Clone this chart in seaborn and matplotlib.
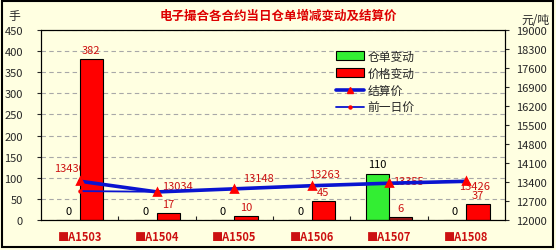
import numpy as np
import pandas as pd
import matplotlib
matplotlib.use("Agg")
import matplotlib.pyplot as plt
from matplotlib.patches import Patch, Rectangle
from matplotlib.lines import Line2D
import seaborn as sns

# ---- data ----
contracts = ["■A1503", "■A1504", "■A1505", "■A1506", "■A1507", "■A1508"]
warrant_change = [0, 0, 0, 0, 110, 0]          # 仓单变动
price_change = [382, 17, 10, 45, 6, 37]        # 价格变动
settle_price = [13430, 13034, 13148, 13263, 13355, 13426]   # 结算价
prev_price = [13065, 13040, 13140, 13255, 13345, 13420]     # 前一日价
left_ticks = [0, 50, 100, 150, 200, 250, 300, 350, 400, 450]
right_ticks = [12000, 12700, 13400, 14100, 14800, 15500, 16200, 16900, 17600, 18300, 19000]

title = "电子撮合各合约当日仓单增减变动及结算价"
series_names = ["仓单变动", "价格变动", "结算价", "前一日价"]

# ---- style ----
sns.set_style("ticks")
plt.rcParams["font.family"] = ["Noto Sans CJK SC", "DejaVu Sans"]
plt.rcParams["axes.unicode_minus"] = False

BG = "#FFFFE1"
GREEN = "#33EE33"
RED = "#FF0000"
DARKRED = "#A01818"
BLUE = "#0A14D0"
LABEL_RED = "#CC1111"

W, H, DPI = 556, 251, 100
fig = plt.figure(figsize=(W / DPI, H / DPI), dpi=DPI)
fig.patch.set_facecolor(BG)
fig.add_artist(Rectangle((2 / W, 3 / H), (W - 5) / W, (H - 5) / H,
                         transform=fig.transFigure, fill=False,
                         edgecolor="black", linewidth=1.5))

L, R, B, T = 41, 505, 221, 31
ax = fig.add_axes([L / W, 1 - B / H, (R - L) / W, (B - T) / H])
ax.set_facecolor(BG)

df_bar = pd.DataFrame({
    "合约": contracts * 2,
    "类型": [series_names[0]] * len(contracts) + [series_names[1]] * len(contracts),
    "数量": warrant_change + price_change,
})
sns.barplot(data=df_bar, x="合约", y="数量", hue="类型",
            hue_order=series_names[:2], palette=[GREEN, RED],
            width=0.6, edgecolor="black", linewidth=0.8,
            saturation=1, legend=False, ax=ax, zorder=2)
# darker fill for the A1507 price-change bar
ax.containers[1][4].set_facecolor(DARKRED)

ax.bar_label(ax.containers[0], padding=3, color="black", fontsize=8)
ax.bar_label(ax.containers[1], padding=3, color=LABEL_RED, fontsize=8)

ax.set_ylim(left_ticks[0], left_ticks[-1])
ax.set_yticks(left_ticks)
ax.set_xlim(-0.5, len(contracts) - 0.5)
ax.set_xlabel("")
ax.set_ylabel("")
ax.grid(axis="y", color="#A8A8A8", linestyle=(0, (4, 3)), linewidth=0.8)
ax.set_axisbelow(True)

ax2 = ax.twinx()
df_line = pd.DataFrame({"合约": contracts, "结算价": settle_price, "前一日价": prev_price})
sns.pointplot(data=df_line, x="合约", y="前一日价", ax=ax2, color=BLUE,
              markers="o", linestyles="-", errorbar=None,
              markersize=2.2, linewidth=1.3,
              markerfacecolor=RED, markeredgecolor=RED)
sns.pointplot(data=df_line, x="合约", y="结算价", ax=ax2, color=BLUE,
              markers="^", linestyles="-", errorbar=None,
              markersize=4, linewidth=2.6,
              markerfacecolor=RED, markeredgecolor=RED)
ax2.set_ylim(right_ticks[0], right_ticks[-1])
ax2.set_yticks(right_ticks)
ax2.set_ylabel("")
ax2.set_xlabel("")

# settlement labels (pixel offsets are styling; +y is up)
offsets = [(-10, 13), (20, 6), (24, 11), (13, 12), (19, 2), (8, -5)]
for i, (v, off) in enumerate(zip(settle_price, offsets)):
    ax.annotate(f"{v}", xy=(i, v), xycoords=ax2.transData,
                xytext=off, textcoords="offset pixels",
                ha="center", va="center", color=LABEL_RED, fontsize=8,
                zorder=1, annotation_clip=False)

# x ticks: labels at centers, small inward ticks at boundaries
ax.set_xlim(-0.5, len(contracts) - 0.5)
ax.set_xticks(range(len(contracts)))
ax.set_xticklabels(contracts, color=LABEL_RED, fontweight="bold", fontsize=8)
ax.tick_params(axis="x", which="major", length=0, pad=7)
ax.set_xticks(np.arange(0.5, len(contracts) - 0.5, 1), minor=True)
ax.tick_params(axis="x", which="minor", direction="in", length=3, width=0.8)
ax.tick_params(axis="y", direction="out", length=3, width=0.8, pad=10, labelsize=8)
ax2.tick_params(axis="y", direction="out", length=3, width=0.8, pad=5, labelsize=8)
for a in (ax, ax2):
    for s in a.spines.values():
        s.set_color("black")
        s.set_linewidth(0.8)

# texts
fig.text(278 / W, 1 - 16 / H, title, ha="center", va="center",
         color="#DD0000", fontweight="bold", fontsize=9)
fig.text(8 / W, 1 - 17 / H, "手", ha="left", va="center", fontsize=8.5)
fig.text(550 / W, 1 - 20 / H, "元/吨", ha="right", va="center", fontsize=8.5)

# legend
handles = [
    Patch(facecolor=GREEN, edgecolor="black", linewidth=0.8),
    Patch(facecolor=RED, edgecolor="black", linewidth=0.8),
    Line2D([], [], color=BLUE, linewidth=2.6, marker="^", markersize=4,
           markerfacecolor=RED, markeredgecolor=RED),
    Line2D([], [], color=BLUE, linewidth=1.3, marker="o", markersize=2.2,
           markerfacecolor=RED, markeredgecolor=RED),
]
fig.legend(handles, series_names, loc="upper left",
           bbox_to_anchor=(330 / W, 1 - 45 / H), frameon=False,
           fontsize=8.5, handlelength=2.4, handleheight=0.8,
           handletextpad=0.3, labelspacing=0.35, borderpad=0)

fig.savefig("out.png", dpi=DPI, facecolor=fig.get_facecolor())
